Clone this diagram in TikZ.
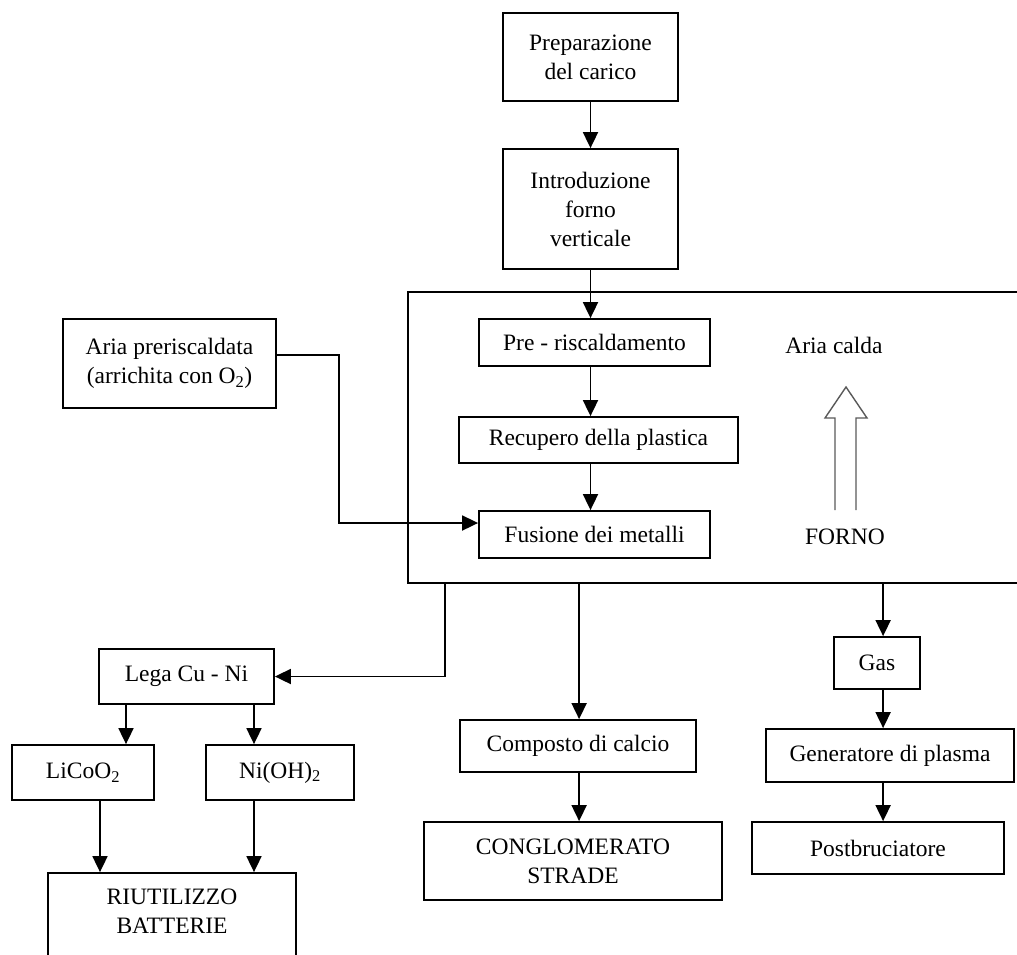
\documentclass[tikz,border=0pt]{standalone}
\usepackage{fontspec}
\setmainfont{Liberation Serif}
\usetikzlibrary{arrows.meta}
\begin{document}
\begin{tikzpicture}[x=1pt,y=-1pt,
  every node/.style={font=\fontsize{23.5}{29}\selectfont},
  box/.style={draw, line width=1.8pt, inner sep=0pt, align=center},
  arr/.style={draw, line width=1.8pt, -{Triangle[width=15pt,length=16pt]}},
  lbl/.style={inner sep=0pt, align=center},
  hollow/.style={draw, line width=1.4pt, gray!70!black, line join=miter}]
\useasboundingbox (0,0) rectangle (1017,954);
\clip (0,0) rectangle (1017,954);

% top chain
\node[box, minimum width=175pt, minimum height=88pt] (prep) at (590.5,57) {Preparazione\\del carico};
\node[box, minimum width=175pt, minimum height=120pt] (intro) at (590.5,209) {Introduzione\\forno\\verticale};

% furnace
\node[box, minimum width=622pt, minimum height=291pt] (forno) at (719,437.5) {};
\node[box, minimum width=231pt, minimum height=47pt] (preris) at (594.5,342.5) {Pre - riscaldamento};
\node[box, minimum width=279pt, minimum height=46pt] (recup) at (598.5,440) {Recupero della plastica};
\node[box, minimum width=231pt, minimum height=47pt] (fusion) at (594.5,534.5) {Fusione dei metalli};
\node[lbl] (ariacalda) at (834,345) {Aria calda};
\node[lbl] (fornolbl) at (845,537) {FORNO};
\draw[hollow] (835,510) -- (835,418) -- (825,418) -- (846,387) -- (867,418) -- (856,418) -- (856,510);

% air input
\node[box, minimum width=213pt, minimum height=89pt] (aria) at (169.5,363.5) {Aria preriscaldata\\(arrichita con O\textsubscript{2})};

% bottom left
\node[box, minimum width=175pt, minimum height=55pt] (lega) at (186.5,676.5) {Lega Cu - Ni};
\node[box, minimum width=142pt, minimum height=55pt] (licoo) at (83,772.5) {LiCoO\textsubscript{2}};
\node[box, minimum width=148pt, minimum height=55pt] (nioh) at (280,772.5) {Ni(OH)\textsubscript{2}};
\node[box, minimum width=248pt, minimum height=126pt] (riut) at (172,936) {};
\node[lbl] (riutlbl) at (172,911) {RIUTILIZZO\\BATTERIE};

% bottom middle
\node[box, minimum width=236pt, minimum height=52pt] (compo) at (578,746) {Composto di calcio};
\node[box, minimum width=298pt, minimum height=78pt] (congl) at (573,861) {CONGLOMERATO\\STRADE};

% bottom right
\node[box, minimum width=86pt, minimum height=52pt] (gas) at (877,663) {Gas};
\node[box, minimum width=248pt, minimum height=53pt] (gen) at (890,755.5) {Generatore di plasma};
\node[box, minimum width=252pt, minimum height=52pt] (post) at (878,848) {Postbruciatore};

% connectors
\draw[arr] (prep) -- (intro);
\draw[arr] (intro.south) -- (intro.south |- preris.north);
\draw[arr] (intro.south |- preris.south) -- (intro.south |- recup.north);
\draw[arr] (intro.south |- recup.south) -- (intro.south |- fusion.north);
\draw[arr] ([yshift=8.5pt]aria.east) -- ++(62,0) |- ([yshift=11.5pt]fusion.west);

\coordinate (fL) at ([xshift=38pt]forno.south west);
\coordinate (fM) at ([xshift=172pt]forno.south west);
\coordinate (fR) at ([xshift=476pt]forno.south west);
\draw[arr] (fL) |- (lega.east);
\draw[arr] (fM) -- (fM |- compo.north);
\draw[arr] (fM |- compo.south) -- (fM |- congl.north);
\draw[arr] (fR) -- (fR |- gas.north);
\draw[arr] (fR |- gas.south) -- (fR |- gen.north);
\draw[arr] (fR |- gen.south) -- (fR |- post.north);

\coordinate (lA) at ([xshift=-60.5pt]lega.south);
\coordinate (lB) at ([xshift=67.5pt]lega.south);
\coordinate (lC) at ([xshift=17pt]licoo.south);
\draw[arr] (lA) -- (lA |- licoo.north);
\draw[arr] (lB) -- (lB |- nioh.north);
\draw[arr] (lC) -- (lC |- riut.north);
\draw[arr] (lB |- nioh.south) -- (lB |- riut.north);
\end{tikzpicture}
\end{document}
